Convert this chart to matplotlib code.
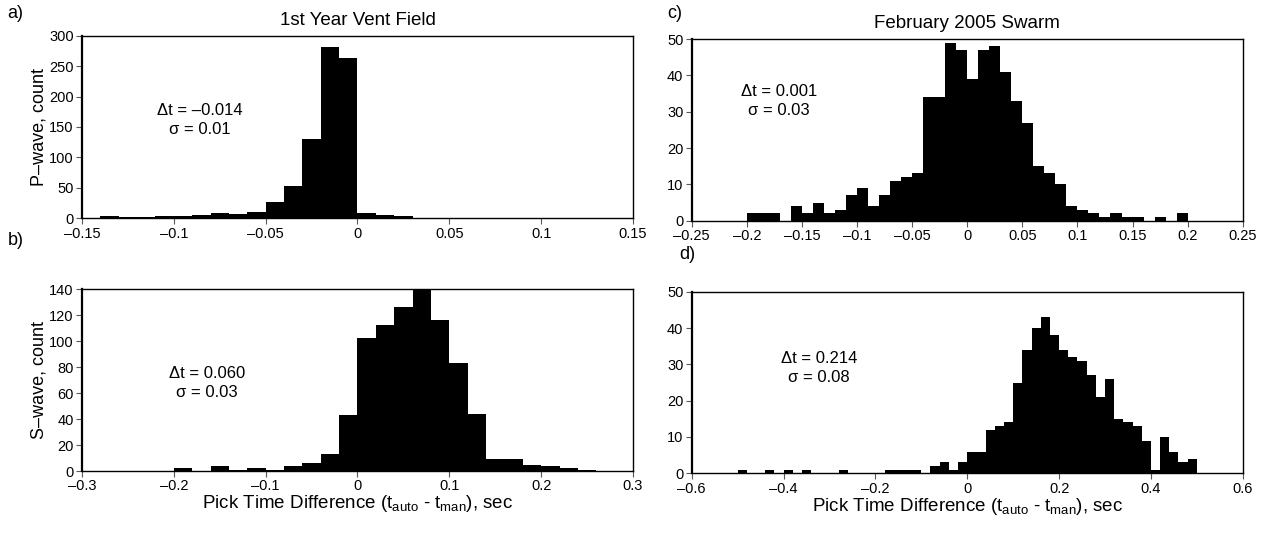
import matplotlib
matplotlib.use("Agg")
import matplotlib.pyplot as plt
import numpy as np

plt.rcParams["font.family"] = ["Liberation Sans", "DejaVu Sans"]

# P-wave, 1st year vent field (bin width 0.01, first bin starts at -0.14)
a_start, a_width = -0.14, 0.01
a_counts = [3, 2, 2, 4, 4, 5, 8, 7, 10, 27, 53, 131, 281, 263, 9, 5, 3, 1]

# S-wave, 1st year vent field (bin width 0.02, first bin starts at -0.20)
b_start, b_width = -0.20, 0.02
b_counts = [2, 0, 4, 1, 2, 1, 4, 6, 13, 43, 102, 112, 126, 140, 116, 83, 44,
            9, 9, 5, 4, 2, 1]

# P-wave, February 2005 swarm (bin width 0.01, first bin starts at -0.20)
c_start, c_width = -0.20, 0.01
c_counts = [2, 2, 2, 0, 4, 2, 5, 2, 3, 7, 9, 4, 7, 11, 12, 13, 34, 34, 49, 47,
            39, 47, 48, 41, 33, 27, 15, 13, 10, 4, 3, 2, 1, 2, 1, 1, 0, 1, 0, 2]

# S-wave, February 2005 swarm (bin width 0.02, first bin starts at -0.50)
d_start, d_width = -0.50, 0.02
d_counts = [1, 0, 0, 1, 0, 1, 0, 1, 0, 0, 0, 1, 0, 0, 0, 0, 1, 1, 1, 1, 0, 2,
            3, 1, 3, 6, 6, 12, 13, 14, 25, 34, 40, 43, 38, 34, 32, 31, 27, 21,
            26, 15, 14, 13, 9, 1, 10, 6, 3, 4]

a_xticks = [-0.15, -0.1, -0.05, 0, 0.05, 0.1, 0.15]
b_xticks = [-0.3, -0.2, -0.1, 0, 0.1, 0.2, 0.3]
c_xticks = [-0.25, -0.2, -0.15, -0.1, -0.05, 0, 0.05, 0.1, 0.15, 0.2, 0.25]
d_xticks = [-0.6, -0.4, -0.2, 0, 0.2, 0.4, 0.6]
a_yticks = [0, 50, 100, 150, 200, 250, 300]
b_yticks = [0, 20, 40, 60, 80, 100, 120, 140]
cd_yticks = [0, 10, 20, 30, 40, 50]

stats = {
    "a": "\u0394t = \u20130.014\n\u03c3 = 0.01",
    "b": "\u0394t = 0.060\n\u03c3 = 0.03",
    "c": "\u0394t = 0.001\n\u03c3 = 0.03",
    "d": "\u0394t = 0.214\n\u03c3 = 0.08",
}


def fmt(v):
    s = "%g" % v
    return s.replace("-", "\u2013")


fig = plt.figure(figsize=(12.69, 5.35), dpi=100)
ax_a = fig.add_axes([0.0646, 0.592, 0.4342, 0.3413])
ax_b = fig.add_axes([0.0646, 0.1196, 0.4342, 0.340])
ax_c = fig.add_axes([0.5451, 0.5875, 0.4342, 0.3396])
ax_d = fig.add_axes([0.5451, 0.1153, 0.4342, 0.3394])

panels = [
    (ax_a, a_start, a_width, a_counts, a_xticks, a_yticks, stats["a"], (0.214, 0.538)),
    (ax_b, b_start, b_width, b_counts, b_xticks, b_yticks, stats["b"], (0.227, 0.484)),
    (ax_c, c_start, c_width, c_counts, c_xticks, cd_yticks, stats["c"], (0.158, 0.659)),
    (ax_d, d_start, d_width, d_counts, d_xticks, cd_yticks, stats["d"], (0.231, 0.58)),
]

for ax, start, width, counts, xt, yt, txt, pos in panels:
    lefts = start + width * np.arange(len(counts))
    ax.bar(lefts, counts, width=width, align="edge", color="black",
           edgecolor="none", linewidth=0)
    ax.set_xlim(xt[0], xt[-1])
    ax.set_ylim(yt[0], yt[-1])
    ax.set_xticks(xt)
    ax.set_xticklabels([fmt(v) for v in xt])
    ax.set_yticks(yt)
    ax.tick_params(direction="out", length=4, width=0.8, labelsize=10.5,
                   color="0.35", pad=2)
    for side in ["top", "right", "bottom"]:
        ax.spines[side].set_linewidth(1.0)
    ax.spines["left"].set_linewidth(1.6)
    ax.text(pos[0], pos[1], txt, transform=ax.transAxes, ha="center",
            va="center", fontsize=12, linespacing=1.35)

# faint red baseline visible in the lower panels
for ax in (ax_b, ax_d):
    ax.axhline(0, color="#8b1a1a", linewidth=0.6, zorder=0.5)

ax_a.set_title("1st Year Vent Field", fontsize=13.5, pad=8)
ax_c.set_title("February 2005 Swarm", fontsize=13.5, pad=8)
ax_a.set_ylabel("P\u2013wave, count", fontsize=13, labelpad=1)
ax_b.set_ylabel("S\u2013wave, count", fontsize=13, labelpad=1)
xlab = r"Pick Time Difference ($\mathregular{t_{auto}}$ - $\mathregular{t_{man}}$), sec"
ax_b.set_xlabel(xlab, fontsize=13.5, labelpad=0)
ax_d.set_xlabel(xlab, fontsize=13.5, labelpad=0)

fig.text(0.006, 0.975, "a)", fontsize=13, va="center")
fig.text(0.006, 0.551, "b)", fontsize=13, va="center")
fig.text(0.526, 0.975, "c)", fontsize=13, va="center")
fig.text(0.535, 0.524, "d)", fontsize=13, va="center")

fig.savefig("out.png", dpi=100)
